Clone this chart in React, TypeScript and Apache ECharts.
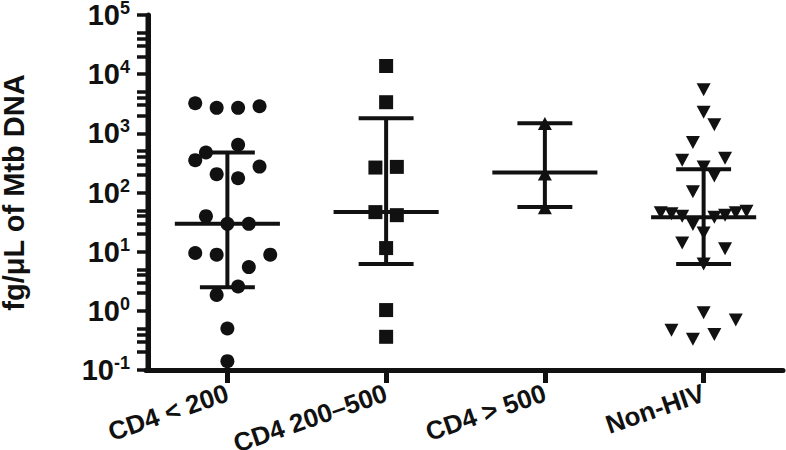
import React, { useEffect, useRef } from "react";
import * as echarts from "echarts";

// ---- data ----
const categories = ["CD4 < 200", "CD4 200–500", "CD4 > 500", "Non-HIV"];

// [column slot within the group, fg/μL value]
const cd4Below200 = [
  [-3, 3228], [-1, 2698], [1, 2698], [3, 2872],
  [1, 641], [-2, 474], [-3, 352], [3, 274], [-1, 204], [1, 174],
  [-2, 39.8], [0, 29.5], [2, 29.5],
  [-3, 9.48], [-1, 8.9], [4, 8.9], [2, 5.48],
  [1, 2.58], [-1, 1.86], [0, 0.504], [0, 0.141],
];
const cd4200to500 = [
  [0, 13740], [0, 3357], [-1, 264], [1, 271], [-1, 46.6], [1, 41.4],
  [0, 11.5], [0, 1.03], [0, 0.364],
];
const cd4Above500 = [[0, 1460], [0, 205], [0, 55]];
const nonHiv = [
  [0, 5458], [0, 2270], [1, 1403], [-1, 702], [-2, 352], [2, 381],
  [0, 271], [1, 190], [-1, 103],
  [-4, 45.3], [-3, 43.6], [-2, 39.8], [1, 38.3], [2, 41.4], [3, 45.3], [4, 48.4],
  [-1, 28.8], [0, 20.7], [-2, 14.0], [2, 11.2], [0, 6.17],
  [0, 0.93], [3, 0.70], [-3, 0.47], [1, 0.40], [-1, 0.33],
];

const medians = [29.5, 46.6, 217, 38.3];
const upperQuartiles = [474, 1795, 1476, 248];
const lowerQuartiles = [2.5, 6.16, 56.7, 6.17];

const decadeTicks = [0.1, 1, 10, 100, 1000, 10000, 100000];
const minorMultipliers = [2, 3, 4, 5];

// ---- styling constants ----
const INK = "#111111";
const FONT = "'Liberation Sans', Arial, Helvetica, sans-serif";
const SLOT = 0.0675;
const MEDIAN_HALF = 0.331;
const CAP_HALF = 0.173;
const CENTER = 0.5; // each category occupies [i, i + 1] on the x scale
const X_MIN = -0.0126; // keeps x = 0 (the y-axis line) just inside the grid
const Y_MIN = decadeTicks[0];
const Y_MAX = decadeTicks[decadeTicks.length - 1];
const AXIS_W = 5;

const groups = [
  { data: cd4Below200, symbol: "circle", rotate: 0 },
  { data: cd4200to500, symbol: "rect", rotate: 0 },
  { data: cd4Above500, symbol: "triangle", rotate: 0 },
  { data: nonHiv, symbol: "triangle", rotate: 180 },
];

export default function App() {
  const ref = useRef<HTMLDivElement>(null);

  useEffect(() => {
    if (!ref.current) return;
    const chart = echarts.init(ref.current, null, { renderer: "svg" });

    const allYTicks: number[] = [...decadeTicks];
    decadeTicks.slice(0, -1).forEach((d) =>
      minorMultipliers.forEach((m) => allYTicks.push(d * m))
    );

    const scatterSeries = groups.map((g, gi) => ({
      type: "scatter",
      symbol: g.symbol,
      symbolRotate: g.rotate,
      symbolSize: g.symbol === "triangle" ? [14, 13] : 14,
      itemStyle: { color: INK, opacity: 1 },
      emphasis: { disabled: true },
      data: g.data.map(([slot, v]) => [gi + CENTER + slot * SLOT, v]),
      z: 3,
    }));

    const barSeries = {
      type: "custom",
      encode: { x: 0, y: [1, 2, 3] },
      data: categories.map((_, i) => [i + CENTER, lowerQuartiles[i], medians[i], upperQuartiles[i]]),
      renderItem: (params: any, api: any) => {
        const gx = api.value(0);
        const lo = api.value(1);
        const med = api.value(2);
        const hi = api.value(3);
        const style = { stroke: INK, lineWidth: 4 };
        const seg = (x1: number, y1: number, x2: number, y2: number) => {
          const a = api.coord([x1, y1]);
          const b = api.coord([x2, y2]);
          return { type: "line", shape: { x1: a[0], y1: a[1], x2: b[0], y2: b[1] }, style };
        };
        return {
          type: "group",
          children: [
            seg(gx, lo, gx, hi),
            seg(gx - MEDIAN_HALF, med, gx + MEDIAN_HALF, med),
            seg(gx - CAP_HALF, hi, gx + CAP_HALF, hi),
            seg(gx - CAP_HALF, lo, gx + CAP_HALF, lo),
          ],
        };
      },
      z: 4,
    };

    chart.setOption({
      animation: false,
      backgroundColor: "#ffffff",
      grid: {
        left: 146,
        right: 3,
        top: 15,
        bottom: 80,
        containLabel: false,
        outerBoundsMode: "none",
      },
      xAxis: {
        type: "value",
        min: X_MIN,
        max: categories.length,
        splitLine: { show: false },
        axisLine: { show: true, onZero: false, lineStyle: { color: INK, width: AXIS_W } },
        axisTick: {
          show: true,
          customValues: categories.map((_, i) => i + CENTER),
          length: 13,
          lineStyle: { color: INK, width: 5 },
        },
        axisLabel: {
          customValues: categories.map((_, i) => i + CENTER),
          formatter: (v: number) => categories[Math.floor(v)] ?? "",
          rotate: 19,
          margin: 22,
          color: INK,
          fontFamily: FONT,
          fontWeight: "bold",
          fontSize: 26,
        },
      },
      yAxis: {
        type: "log",
        logBase: 10,
        min: Y_MIN,
        max: Y_MAX,
        position: "left",
        splitLine: { show: false },
        axisLine: { show: true, lineStyle: { color: INK, width: AXIS_W } },
        axisTick: {
          show: true,
          customValues: allYTicks,
          length: 11,
          lineStyle: { color: INK, width: 3.5 },
        },
        axisLabel: {
          customValues: decadeTicks,
          margin: 16,
          fontFamily: FONT,
          fontWeight: "bold",
          fontSize: 29,
          color: INK,
          formatter: (v: number) => `{b|10}{s|${Math.round(Math.log10(v))}}`,
          rich: {
            b: { fontFamily: FONT, fontWeight: "bold", fontSize: 29, color: INK, lineHeight: 32 },
            s: { fontFamily: FONT, fontWeight: "bold", fontSize: 18, color: INK, verticalAlign: "top", lineHeight: 18 },
          },
        },
        name: "fg/μL of Mtb DNA",
        nameLocation: "middle",
        nameRotate: 90,
        nameGap: 118,
        nameTextStyle: { fontFamily: FONT, fontWeight: "bold", fontSize: 29, color: INK },
      },
      series: [barSeries, ...scatterSeries],
    });

    // vertical y-axis line at x = 0, positioned through the chart's own scales
    const bottom = chart.convertToPixel({ xAxisIndex: 0, yAxisIndex: 0 }, [0, Y_MIN]) as number[];
    const top = chart.convertToPixel({ xAxisIndex: 0, yAxisIndex: 0 }, [0, Y_MAX]) as number[];
    if (bottom && top && isFinite(bottom[0]) && isFinite(top[1])) {
      chart.setOption({
        graphic: [
          {
            type: "rect",
            z: 100,
            silent: true,
            shape: {
              x: bottom[0] - AXIS_W / 2,
              y: top[1],
              width: AXIS_W,
              height: bottom[1] - top[1] + AXIS_W / 2,
            },
            style: { fill: INK },
          },
        ],
      });
    }

    return () => chart.dispose();
  }, []);

  return (
    <div
      ref={ref}
      style={{ position: "fixed", left: 0, top: 0, width: 786, height: 450, background: "#fff" }}
    />
  );
}
